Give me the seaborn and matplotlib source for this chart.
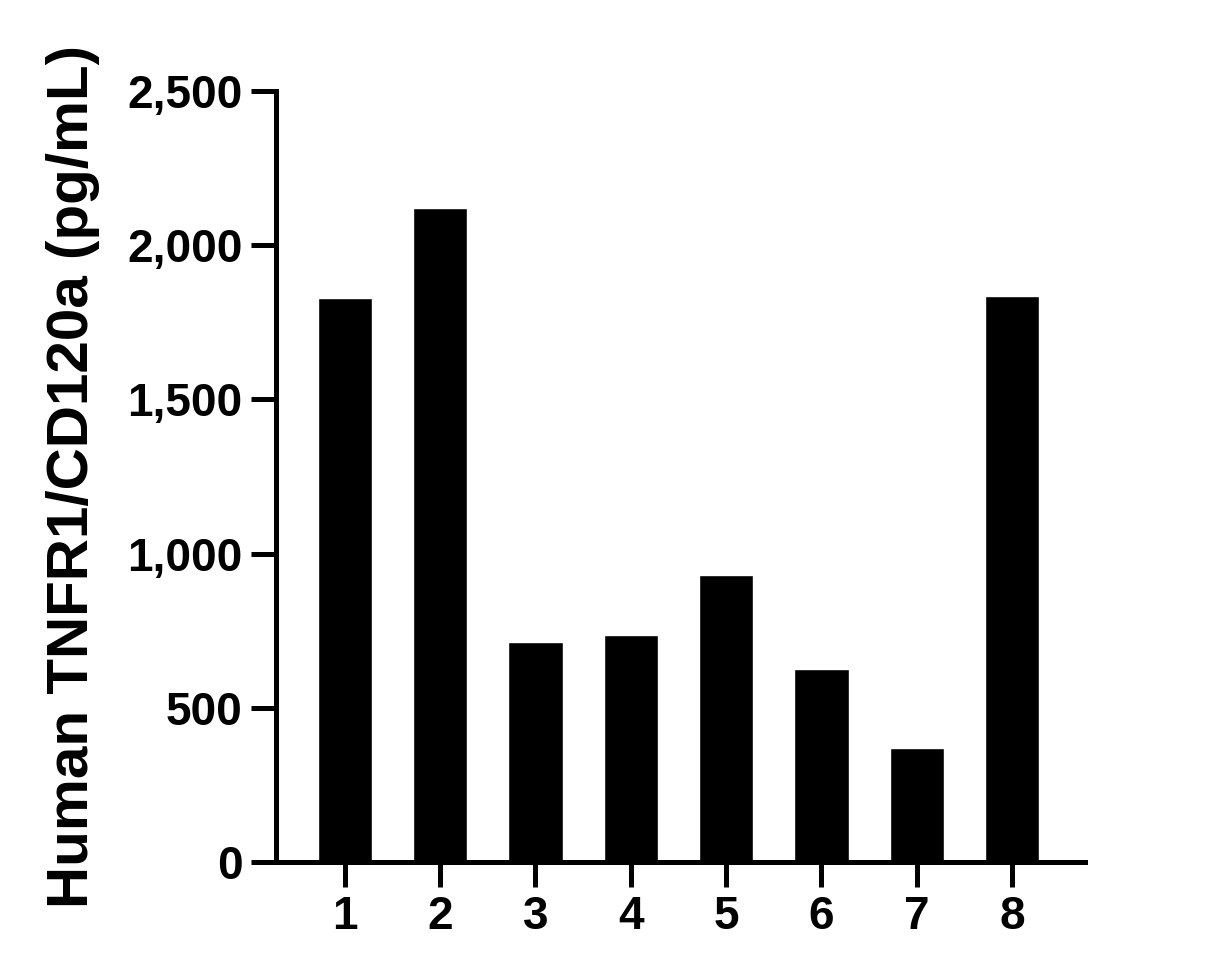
import matplotlib
matplotlib.use("Agg")
import matplotlib.pyplot as plt
import seaborn as sns
import pandas as pd
from matplotlib.ticker import FuncFormatter

# values
samples = ["1", "2", "3", "4", "5", "6", "7", "8"]
conc = [1829, 2121, 713, 736, 931, 626, 370, 1835]

y_ticks = [0, 500, 1000, 1500, 2000, 2500]
y_label = "Human TNFR1/CD120a (pg/mL)"

df = pd.DataFrame({"sample": samples, "conc": conc})

sns.set_style("ticks")
plt.rcParams["font.family"] = ["Liberation Sans", "DejaVu Sans"]
plt.rcParams["font.weight"] = "bold"

fig = plt.figure(figsize=(12.16, 9.8), dpi=100)
ax = fig.add_axes([0.227, 0.1204, 0.665, 0.7866])

sns.barplot(data=df, x="sample", y="conc", color="black", saturation=1,
            width=0.57, ax=ax)

ax.set_ylim(0, 2500)
ax.set_xlim(-0.72, 7.76)
ax.set_yticks(y_ticks)
ax.yaxis.set_major_formatter(FuncFormatter(lambda v, p: f"{int(v):,}"))

sns.despine(ax=ax)
for side in ["left", "bottom"]:
    ax.spines[side].set_linewidth(3.6)
    ax.spines[side].set_color("black")

ax.tick_params(axis="both", width=3.6, length=18, labelsize=33, pad=6,
               color="black", labelcolor="black")
for lab in ax.get_xticklabels() + ax.get_yticklabels():
    lab.set_fontweight("bold")

ax.set_xlabel("")
ax.set_ylabel(y_label, fontsize=42, fontweight="bold", labelpad=20,
              color="black")

fig.savefig("out.png", dpi=100, facecolor="white")
